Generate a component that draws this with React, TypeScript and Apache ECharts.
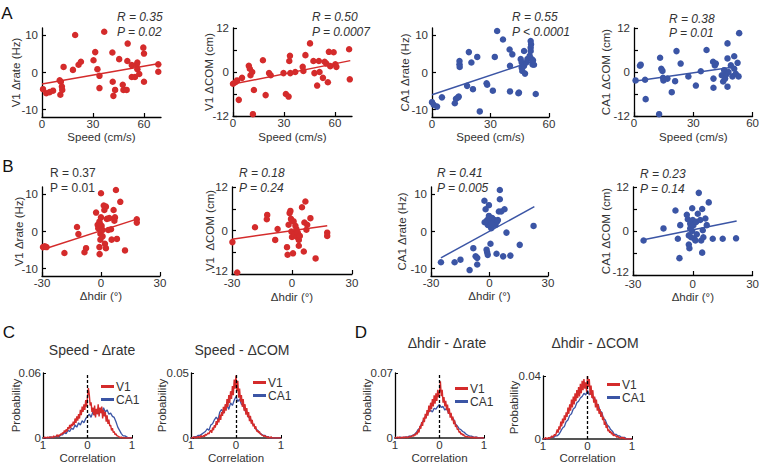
import React, { useEffect, useRef } from "react";
import * as echarts from "echarts";

const RED = "#d42b2b";
const BLUE = "#3b55a5";
const FONT = "'Liberation Sans', Arial, Helvetica, sans-serif";
const TXT = "#333";
const FS = 11.5;

// ---------- Row A: vs running speed (cm/s) ----------
const a1V1RateSpeed: number[][] = [
  [0.6, -4.5], [2.5, -5.6], [4.5, -5.3], [6.5, -4.9], [10.4, -2.1], [11.1, -2.5], [11.7, -3.8],
  [11.9, -4.7], [10.8, -6.0], [12.7, 1.5], [18.2, 0.7], [19.5, 10.1], [21.5, 2.1], [22.9, 2.9],
  [30.3, 3.3], [31.3, 5.5], [32.6, 0.9], [33.8, -0.9], [33.8, -4.2], [36.6, 11.0], [41.4, 5.4],
  [41.6, -2.5], [42, -6.3], [43, -4.7], [45.4, 3.6], [47.5, -3.3], [47.9, -4.7], [49.8, -4.7],
  [50.2, 3.1], [50.4, 7.8], [52.8, 2.0], [52.8, -1.2], [54.7, -1.2], [55.7, 2.1], [56.1, 2.7],
  [56.1, 0.9], [57.2, -0.4], [59.6, 6.7], [60, 5.1], [60, -2.5], [68.4, 2.2], [68.4, 0.2],
];
const a1Fit: number[][] = [[0, -3.1], [69, 2.4]];

const a2V1ComSpeed: number[][] = [
  [0, -3.2], [1.4, -2.8], [2.4, -2.3], [3.4, -7.6], [5.3, -1.6], [9.3, 1.7], [9.9, 0.9], [10.3, -0.9],
  [11.7, -11.5], [12.3, -4.9], [11.3, 0], [17.6, 3.2], [19.2, -6.3], [21.2, -0.3], [22.2, -0.9],
  [29.7, -0.3], [31.1, -6.0], [32.7, -6.7], [33.1, 3.0], [33.5, 4.4], [33.7, -0.3], [36.6, 0],
  [41, 1.4], [41.4, 0.3], [42.6, 4.6], [45.3, 7.8], [47.3, 3.0], [47.9, -0.3], [49.5, -3.7],
  [50.5, 3.0], [50.9, 0], [52.9, -1.6], [53.9, 2.8], [54.9, 2.3], [55.8, -2.8], [56.4, 5.5],
  [57.2, 1.6], [59.2, 5.4], [60.2, 2.1], [60.8, 1.4], [68.3, 6.2], [68.7, -2.0],
];
const a2Fit: number[][] = [[0, -3.3], [69, 3.1]];

const a3Ca1RateSpeed: number[][] = [
  [0, -8.0], [0.9, -8.7], [2.6, -9.2], [5.1, -6.7], [11.7, -8.3], [12.3, -7.1], [13.4, -6.7],
  [14.1, 3.1], [14.1, 2.2], [14.2, 1.5], [13.7, -6.5], [18.9, 5.5], [20.2, 2.7], [18, -3.6],
  [21, -4.5], [23.2, 4.2], [24.5, -10.5], [28, -2.9], [28.3, -3.3], [31.2, -4.9], [32.2, 4.2],
  [33.4, 11.2], [36.4, 8.9], [39.8, 6.2], [40, 1.8], [40, -5.1], [41.2, 4.9], [44.3, -5.6],
  [44.6, -5.4], [45.5, 3.6], [46, 2.7], [46, 1.3], [46.3, 0.4], [47.2, 5.8], [47.2, 1.8],
  [47.7, -0.3], [48.4, 2.7], [48.9, 3.6], [50.1, 4.5], [50.6, 8.5], [50.8, 7.6], [50.6, 6.7],
  [50.6, 5.8], [51.1, 3.6], [51.5, 2.2], [52.3, 2.1], [53.2, -5.8], [51.8, 3.3],
];
const a3Fit: number[][] = [[0, -6.0], [53.2, 3.3]];

const a4Ca1ComSpeed: number[][] = [
  [0.8, -2.3], [3, 1.7], [3.4, 2.0], [5.6, -2.1], [5.9, -7.4], [12.7, -11.5], [13.2, 3.9],
  [13.8, 0.9], [14.4, 0.3], [14.7, -1.6], [14.9, -2.3], [16.9, -1.8], [19.1, -5.5], [20.8, -2.5],
  [21.5, 5.7], [23.6, 2.3], [27.5, -1.2], [31.3, -3.7], [33.8, 0.2], [36.7, 6.0], [40, 2.8],
  [40.2, -1.8], [40.2, -4.3], [40.9, 1.8], [41.4, 2.3], [44.4, -0.9], [45.1, -2.6], [45.6, 0.5],
  [46.1, -1.8], [46.8, -0.6], [47.3, 7.8], [47.3, 3.7], [47.3, -4.0], [47.8, 0], [49, 1.8],
  [49.8, -1.2], [50.7, 4.3], [50.7, 0.9], [51.5, -0.5], [52.4, 2.5], [52.9, -1.2], [53.2, 10.6],
];
const a4Fit: number[][] = [[0, -2.5], [51.5, 1.4]];

// ---------- Row B: vs head-direction change (deg) ----------
const b1V1RateHdir: number[][] = [
  [-29.5, -4.2], [-28.6, -4.0], [-27.7, -4.2], [-18.6, -5.8], [-12.2, 1.2], [-11.5, -0.7],
  [-7.6, -4.5], [-8.4, -5.6], [-2.5, 5.1], [-1.7, 1.8], [-1.4, 0.9], [-0.8, 2.7], [-0.3, -0.6],
  [-0.3, -2.2], [-0.8, -4.2], [-0.7, -6.1], [0, 10.3], [0, 3.8], [0.3, 1.5], [0.8, 0.4],
  [0.8, -1.3], [1.4, 7.0], [1.7, 5.8], [2, -3.3], [2.5, 6.7], [3, 3.4], [2.5, -4.5], [4.2, 3.6],
  [5.1, 0.6], [5.4, -2.2], [6.4, 5.8], [6.8, 2.9], [7.1, 3.8], [7.6, 11.2], [8.1, -2.0],
  [9.8, 8.0], [12.2, -5.1], [18.2, 3.3], [18.2, 2.4], [3.7, 0.4], [-0.5, 2.0],
];
const b1Fit: number[][] = [[-30, -4.9], [18.6, 3.4]];

const b2V1ComHdir: number[][] = [
  [-29.8, -3.2], [-27.4, -11.6], [-18.5, 0.9], [-12.4, 4.3], [-12.6, 3.1], [-7.2, 0.4],
  [-8.4, -2.6], [-2.5, -4.6], [-2.2, -6.7], [-1.7, 1.6], [-1.2, 4.8], [-0.8, 5.4], [-0.5, 3.2],
  [-0.3, -0.3], [0, 2.7], [0, -1.8], [0.5, -6.3], [0.8, 2.5], [1.2, -1.0], [1.7, 1.3], [2.2, 0.4],
  [2.5, -1.8], [2.9, -0.6], [3.4, -2.6], [3.4, -4.2], [3.9, -1.5], [5, 6.4], [5.9, -5.8],
  [6.2, 2.2], [6.7, 8.0], [7.2, 0.2], [7.6, 1.6], [9.2, 3.4], [11.8, -7.7], [17.6, -0.6],
  [17.6, -1.5],
];
const b2Fit: number[][] = [[-30, -2.4], [17.6, 1.3]];

const b3Ca1RateHdir: number[][] = [
  [-24.9, -8.3], [-17.9, -8.3], [-14.9, -7.6], [-10.2, -10.4], [-8.3, -4.5], [-7.1, -6.7],
  [-6.3, -7.1], [-6.3, -8.9], [-2.6, 8.3], [-2, 6.0], [-1.5, -4.9], [-1.2, -5.6], [-0.9, -6.3],
  [-1.2, 3.1], [-0.9, 1.8], [-0.3, 7.1], [-0.3, 4.2], [0.2, 2.7], [0.2, 1.5], [0.5, -3.3],
  [0.9, 0.9], [1.4, 3.6], [1.9, 2.2], [2.6, 3.1], [3.1, 1.8], [3.6, -6.0], [3.9, 2.7], [4.3, 3.1],
  [5.3, 11.2], [5.3, 8.7], [4.8, 5.4], [6, 5.4], [7, -6.7], [7.7, 6.0], [8.7, -0.3], [10.7, -6.5],
  [15.5, -3.6], [22.6, 1.5], [-2.5, 2.5], [1.0, 2.0],
];
const b3Fit: number[][] = [[-24.9, -7.1], [23, 6.7]];

const b4Ca1ComHdir: number[][] = [
  [-24.7, -2.6], [-17.5, -12.2], [-14.7, 0.7], [-8.7, 5.6], [-7.5, -2.1], [-6.7, -7.4],
  [-6.3, 1.6], [-3, 4.4], [-2.5, 3.2], [-2, -1.2], [-2, -3.7], [-1.7, -4.7], [-1.3, 2.0],
  [-1.3, 0.7], [-0.8, -1.7], [-0.3, 6.2], [-0.3, 0], [0, 3.0], [0.3, 1.6], [0.8, -2.1],
  [1.3, -2.6], [1.7, 2.5], [2, -0.9], [2.5, 4.7], [3, 10.4], [3.7, 3.0], [4.2, -2.6], [4.7, -5.9],
  [4.7, 6.0], [5, 0.2], [5.3, -1.7], [6.3, 3.4], [7, 1.6], [8, 7.8], [10, -2.1], [15, -2.1],
  [21.7, -2.0],
];
const b4Fit: number[][] = [[-24.7, -2.4], [22, 2.7]];

// ---------- Rows C/D: shuffled correlation distributions (probability x 1000) ----------
// V1 histograms: bins every 0.02 from -1 to 1 (101 bins); CA1: every 0.04 (51 bins)
const fineBins: number[] = Array.from({ length: 101 }, (_, i) => Math.round((-1 + i * 0.02) * 100) / 100);
const coarseBins: number[] = Array.from({ length: 51 }, (_, i) => Math.round((-1 + i * 0.04) * 100) / 100);

const cSpeedRateV1 = [
  0, 0, 1, 0, 0, 1, 0, 1, 0, 1, 1, 0, 2, 1, 1, 2,
  3, 1, 3, 2, 4, 3, 5, 4, 7, 5,
  8, 6, 10, 8, 12, 9, 13, 11, 15, 12,
  18, 14, 20, 16, 22, 18, 26, 21, 29, 24,
  31, 26, 35, 29, 38,
  46, 40, 30, 33, 24,
  28, 21, 30, 19, 27, 22, 31, 20, 28, 23,
  29, 18, 26, 20, 24, 15, 21, 13, 17, 11,
  12, 7, 9, 5, 6, 3, 4, 2, 2, 1,
  1, 0, 1, 0, 0, 0, 0, 0, 0, 0, 0, 0, 0, 0, 0,
];
const cSpeedRateCA1 = [0, 0, 0, 0, 1, 0, 1, 1, 2, 1, 3, 3, 5, 4, 7, 6, 9, 8, 12, 10, 14, 12, 16, 14, 18, 20, 22, 19, 24, 21, 26, 22, 27, 23, 28, 24, 26, 22, 23, 20, 19, 15, 10, 7, 4, 2, 2, 1, 0, 0, 0];

const cSpeedComV1 = [
  0, 0, 0, 1, 0, 0, 1, 0, 1, 1, 0, 2, 1, 1, 2, 1,
  3, 2, 3, 4, 3, 5, 6, 4, 8, 6,
  10, 8, 13, 10, 15, 12, 18, 14, 20, 17,
  24, 19, 26, 21, 30, 24, 33, 27, 36, 30,
  40, 33, 45, 38, 48,
  36, 44, 31, 38, 28,
  33, 24, 30, 21, 26, 18, 23, 16, 20, 13,
  17, 11, 14, 9, 11, 7, 9, 5, 6, 4,
  5, 3, 3, 2, 2, 1, 2, 1, 1, 0,
  1, 0, 0, 1, 0, 0, 0, 0, 0, 0, 0, 0, 0, 0, 0,
];
const cSpeedComCA1 = [0, 0, 1, 1, 2, 2, 3, 4, 5, 7, 6, 10, 11, 14, 16, 14, 20, 22, 19, 24, 25, 22, 27, 25, 29, 32, 28, 30, 26, 25, 21, 20, 16, 15, 11, 10, 7, 6, 4, 3, 2, 2, 1, 1, 0, 0, 0, 0, 0, 0, 0];

const dHdirRateV1 = [
  1, 0, 0, 1, 0, 1, 0, 0, 1, 0, 1, 0, 1, 1, 0, 1,
  1, 2, 1, 2, 3, 2, 4, 3, 6, 4,
  9, 6, 13, 10, 17, 13, 22, 17, 26, 21,
  30, 24, 35, 28, 38, 31, 42, 34, 46, 37,
  48, 40, 52, 44, 50,
  61, 45, 52, 38, 44,
  34, 40, 30, 36, 26, 32, 22, 27, 19, 23,
  15, 19, 12, 14, 9, 10, 6, 7, 4, 5,
  3, 4, 2, 2, 1, 2, 1, 1, 1, 0,
  1, 0, 1, 0, 0, 1, 0, 0, 0, 0, 0, 0, 0, 0, 0,
];
const dHdirRateCA1 = [0, 0, 0, 1, 0, 1, 1, 1, 2, 2, 3, 4, 6, 9, 11, 16, 19, 23, 25, 28, 30, 28, 32, 31, 34, 36, 33, 34, 30, 32, 27, 26, 22, 20, 15, 13, 10, 9, 7, 6, 4, 3, 2, 2, 1, 1, 1, 0, 0, 0, 0];

const dHdirComV1 = [
  0, 0, 0, 1, 0, 0, 1, 0, 1, 1, 2, 1, 2, 3, 2, 4,
  6, 4, 8, 6, 11, 8, 13, 10, 15, 12,
  17, 14, 20, 16, 22, 18, 25, 20, 27, 22,
  29, 24, 31, 26, 33, 27, 35, 29, 37, 31,
  38, 32, 36, 30, 40,
  33, 38, 28, 34, 26,
  31, 23, 27, 20, 25, 18, 22, 16, 19, 14,
  17, 12, 14, 9, 11, 7, 9, 5, 6, 4,
  5, 3, 4, 2, 3, 2, 2, 1, 2, 1,
  1, 0, 1, 1, 0, 1, 0, 0, 0, 0, 0, 0, 0, 0, 0,
];
const dHdirComCA1 = [0, 0, 0, 0, 1, 1, 1, 2, 2, 3, 5, 7, 8, 11, 12, 15, 16, 19, 20, 23, 24, 26, 27, 29, 28, 31, 28, 30, 26, 26, 22, 22, 18, 17, 13, 12, 9, 8, 6, 5, 3, 3, 2, 2, 1, 1, 1, 0, 0, 0, 0];

const axisBase = (extra: any) => ({
  type: "value",
  axisLine: { show: true, onZero: false, lineStyle: { color: "#000", width: 1.3 } },
  splitLine: { show: false },
  nameLocation: "middle",
  nameMoveOverlap: false,
  nameTextStyle: { fontFamily: FONT, fontSize: FS, color: TXT },
  ...extra,
});

type ScatterPanel = {
  grid: any; xMin: number; xMax: number; xTicks: number[]; yMin: number; yMax: number;
  yTicks: number[]; yLabels: number[]; xName: string; xGap: number; xMargin: number; yName: string; yGap: number;
  liftLow: boolean; data: number[][]; fit: number[][]; color: string;
};

const speedTicks = [0, 30, 60];
const hdirTicks = [-30, 0, 30];
const t10 = [-10, 0, 10];
const t12 = [-12, -6, 0, 6, 12];
const l12 = [-12, 0, 12];

const scatterPanels: ScatterPanel[] = [
  { grid: { left: 42, top: 28, width: 119, height: 89 }, xMin: 0, xMax: 70, xTicks: speedTicks, yMin: -12, yMax: 12, yTicks: t10, yLabels: t10, xName: "Speed (cm/s)", xGap: 14, xMargin: 1, yName: "V1 \u0394rate (Hz)", yGap: 20, liftLow: false, data: a1V1RateSpeed, fit: a1Fit, color: RED },
  { grid: { left: 233, top: 28, width: 119, height: 88 }, xMin: 0, xMax: 70, xTicks: speedTicks, yMin: -12, yMax: 12, yTicks: t12, yLabels: l12, xName: "Speed (cm/s)", xGap: 15, xMargin: 1, yName: "V1 \u0394COM (cm)", yGap: 18, liftLow: false, data: a2V1ComSpeed, fit: a2Fit, color: RED },
  { grid: { left: 432, top: 28, width: 117, height: 89 }, xMin: 0, xMax: 60, xTicks: speedTicks, yMin: -12, yMax: 12, yTicks: t10, yLabels: t10, xName: "Speed (cm/s)", xGap: 14, xMargin: 1, yName: "CA1 \u0394rate (Hz)", yGap: 21, liftLow: false, data: a3Ca1RateSpeed, fit: a3Fit, color: BLUE },
  { grid: { left: 634, top: 28, width: 119, height: 88 }, xMin: 0, xMax: 60, xTicks: speedTicks, yMin: -12, yMax: 12, yTicks: t12, yLabels: l12, xName: "Speed (cm/s)", xGap: 15, xMargin: 1, yName: "CA1 \u0394COM (cm)", yGap: 22, liftLow: false, data: a4Ca1ComSpeed, fit: a4Fit, color: BLUE },
  { grid: { left: 42, top: 187, width: 118, height: 89 }, xMin: -30, xMax: 30, xTicks: hdirTicks, yMin: -12, yMax: 12, yTicks: t10, yLabels: t10, xName: "\u0394hdir (\u00b0)", xGap: 14, xMargin: 1, yName: "V1 \u0394rate (Hz)", yGap: 17, liftLow: false, data: b1V1RateHdir, fit: b1Fit, color: RED },
  { grid: { left: 232, top: 187, width: 120, height: 87 }, xMin: -30, xMax: 30, xTicks: hdirTicks, yMin: -12, yMax: 12, yTicks: t12, yLabels: l12, xName: "\u0394hdir (\u00b0)", xGap: 17, xMargin: 3, yName: "V1  \u0394COM (cm)", yGap: 16, liftLow: true, data: b2V1ComHdir, fit: b2Fit, color: RED },
  { grid: { left: 431, top: 187, width: 117, height: 89 }, xMin: -30, xMax: 30, xTicks: hdirTicks, yMin: -12, yMax: 12, yTicks: t10, yLabels: t10, xName: "\u0394hdir (\u00b0)", xGap: 14, xMargin: 1, yName: "CA1 \u0394rate (Hz)", yGap: 23, liftLow: false, data: b3Ca1RateHdir, fit: b3Fit, color: BLUE },
  { grid: { left: 633, top: 187, width: 120, height: 88 }, xMin: -30, xMax: 30, xTicks: hdirTicks, yMin: -12, yMax: 12, yTicks: t12, yLabels: l12, xName: "\u0394hdir (\u00b0)", xGap: 16, xMargin: 3, yName: "CA1 \u0394COM (cm)", yGap: 21, liftLow: true, data: b4Ca1ComHdir, fit: b4Fit, color: BLUE },
];

type HistPanel = { grid: any; yMax: number; v1: number[]; ca1: number[]; legend: { left: number; top: number }; yGap: number; xGap: number };

const histPanels: HistPanel[] = [
  { grid: { left: 43, top: 373, width: 89, height: 67 }, yMax: 0.06, v1: cSpeedRateV1, ca1: cSpeedRateCA1, legend: { left: 101, top: 380 }, yGap: 21, xGap: 14 },
  { grid: { left: 191, top: 373, width: 90, height: 67 }, yMax: 0.05, v1: cSpeedComV1, ca1: cSpeedComCA1, legend: { left: 253, top: 376 }, yGap: 23, xGap: 14 },
  { grid: { left: 395, top: 373, width: 89, height: 67 }, yMax: 0.07, v1: dHdirRateV1, ca1: dHdirRateCA1, legend: { left: 455, top: 382 }, yGap: 22, xGap: 14 },
  { grid: { left: 543, top: 376, width: 89, height: 65 }, yMax: 0.04, v1: dHdirComV1, ca1: dHdirComCA1, legend: { left: 607, top: 378 }, yGap: 23, xGap: 13 },
];

const statTexts: { x: number; y1: number; y2: number; r: string; p: string; italic: boolean }[] = [
  { x: 117, y1: 17, y2: 32, r: "R = 0.35", p: "P = 0.02", italic: true },
  { x: 312, y1: 17, y2: 32, r: "R = 0.50", p: "P = 0.0007", italic: true },
  { x: 512, y1: 17, y2: 32, r: "R = 0.55", p: "P < 0.0001", italic: true },
  { x: 669, y1: 19, y2: 33, r: "R = 0.38", p: "P = 0.01", italic: true },
  { x: 50, y1: 173, y2: 188, r: "R = 0.37", p: "P = 0.01", italic: false },
  { x: 239, y1: 173, y2: 188, r: "R = 0.18", p: "P = 0.24", italic: true },
  { x: 437, y1: 173, y2: 188, r: "R = 0.41", p: "P = 0.005", italic: true },
  { x: 640, y1: 174, y2: 189, r: "R = 0.23", p: "P = 0.14", italic: true },
];

const panelTitles = [
  { x: 92, y: 350, text: "Speed - \u0394rate" },
  { x: 242, y: 350, text: "Speed - \u0394COM" },
  { x: 447, y: 343, text: "\u0394hdir - \u0394rate" },
  { x: 595, y: 343, text: "\u0394hdir - \u0394COM" },
];

const panelLetters = [
  { x: 7, y: 13, text: "A" },
  { x: 8, y: 166, text: "B" },
  { x: 9, y: 332, text: "C" },
  { x: 361, y: 332, text: "D" },
];

function buildOption() {
  const grid: any[] = [];
  const xAxis: any[] = [];
  const yAxis: any[] = [];
  const series: any[] = [];
  const legend: any[] = [];

  scatterPanels.forEach((p, i) => {
    grid.push({ ...p.grid, containLabel: false });
    xAxis.push(axisBase({
      gridIndex: i, min: p.xMin, max: p.xMax, name: p.xName, nameGap: p.xGap,
      axisTick: { show: true, inside: true, length: 4, customValues: p.xTicks, lineStyle: { color: "#000", width: 1.2 } },
      axisLabel: { customValues: p.xTicks, fontFamily: FONT, fontSize: FS, color: TXT, margin: p.xMargin },
    }));
    const lowValue = p.yMin;
    yAxis.push(axisBase({
      gridIndex: i, min: p.yMin, max: p.yMax, name: p.yName, nameGap: p.yGap, nameRotate: 90,
      axisTick: { show: true, inside: true, length: 4, customValues: p.yTicks, lineStyle: { color: "#000", width: 1.2 } },
      axisLabel: {
        customValues: p.yLabels, fontFamily: FONT, fontSize: FS, color: TXT, margin: 4,
        formatter: (v: number) => (p.liftLow && v === lowValue ? `{lo|${v}}` : `${v}`),
        rich: { lo: { fontFamily: FONT, fontSize: FS, color: TXT, padding: [0, 0, 6, 0] } },
      },
    }));
    series.push({
      type: "line", xAxisIndex: i, yAxisIndex: i, data: p.fit, showSymbol: false, silent: true,
      lineStyle: { color: p.color, width: 1.5 }, z: 3,
    });
    series.push({
      type: "scatter", xAxisIndex: i, yAxisIndex: i, data: p.data, symbol: "circle", symbolSize: 6.5,
      itemStyle: { color: p.color, opacity: 1 }, z: 4,
    });
  });

  histPanels.forEach((h, j) => {
    const i = scatterPanels.length + j;
    grid.push({ ...h.grid, containLabel: false });
    xAxis.push(axisBase({
      gridIndex: i, min: -1, max: 1, name: "Correlation", nameGap: h.xGap,
      axisLine: { show: true, onZero: false, lineStyle: { color: "#555", width: 2 } },
      axisTick: { show: true, inside: true, length: 3, customValues: [-1, 0, 1], lineStyle: { color: "#000" } },
      axisLabel: { customValues: [-1, 0, 1], fontFamily: FONT, fontSize: FS, color: TXT, margin: 1, formatter: (v: number) => String(Math.abs(v)) },
    }));
    yAxis.push(axisBase({
      gridIndex: i, min: 0, max: h.yMax, name: "Probability", nameGap: h.yGap, nameRotate: 90,
      axisTick: { show: true, inside: true, length: 3, customValues: [0, h.yMax], lineStyle: { color: "#000" } },
      axisLabel: { customValues: [0, h.yMax], fontFamily: FONT, fontSize: FS, color: TXT, margin: 2 },
    }));
    series.push({
      name: "CA1", type: "line", xAxisIndex: i, yAxisIndex: i, showSymbol: false, silent: true,
      data: coarseBins.map((x, k) => [x, h.ca1[k] / 1000]),
      lineStyle: { color: BLUE, width: 1.3 }, itemStyle: { color: BLUE }, z: 3,
    });
    series.push({
      name: "V1", type: "line", xAxisIndex: i, yAxisIndex: i, showSymbol: false, silent: true,
      data: fineBins.map((x, k) => [x, h.v1[k] / 1000]),
      lineStyle: { color: RED, width: 1.4 }, itemStyle: { color: RED }, z: 4,
      markLine: {
        silent: true, symbol: ["none", "none"], label: { show: false },
        lineStyle: { color: "#000", type: [3, 2], width: 1.3 }, z: 5,
        data: [{ xAxis: 0 }],
      },
    });
    legend.push({
      data: ["V1", "CA1"], left: h.legend.left, top: h.legend.top, orient: "vertical",
      icon: "rect", itemWidth: 13, itemHeight: 3, itemGap: 0, padding: 0, selectedMode: false,
      textStyle: { fontFamily: FONT, fontSize: 12, color: TXT, lineHeight: 13, padding: [0, 0, 0, -3] },
    });
  });

  const graphic: any[] = [];
  panelLetters.forEach((l) => graphic.push({
    type: "text", x: l.x, y: l.y, silent: true,
    style: { text: l.text, fill: "#111", font: `17px ${FONT}`, align: "center", verticalAlign: "middle" },
  }));
  panelTitles.forEach((t) => graphic.push({
    type: "text", x: t.x, y: t.y, silent: true,
    style: { text: t.text, fill: TXT, font: `14px ${FONT}`, align: "center", verticalAlign: "middle" },
  }));
  statTexts.forEach((s) => {
    const font = `${s.italic ? "italic " : ""}12px ${FONT}`;
    graphic.push({ type: "text", x: s.x, y: s.y1, silent: true, style: { text: s.r, fill: TXT, font, align: "left", verticalAlign: "middle" } });
    graphic.push({ type: "text", x: s.x, y: s.y2, silent: true, style: { text: s.p, fill: TXT, font, align: "left", verticalAlign: "middle" } });
  });

  return {
    animation: false,
    backgroundColor: "#fff",
    textStyle: { fontFamily: FONT },
    grid, xAxis, yAxis, series, legend, graphic,
  };
}

export default function App() {
  const ref = useRef<HTMLDivElement>(null);
  useEffect(() => {
    document.body.style.margin = "0";
    if (!ref.current) return;
    const chart = echarts.init(ref.current, undefined, { renderer: "svg" });
    chart.setOption(buildOption() as any);
    return () => chart.dispose();
  }, []);
  return <div ref={ref} style={{ width: 762, height: 465 }} />;
}
